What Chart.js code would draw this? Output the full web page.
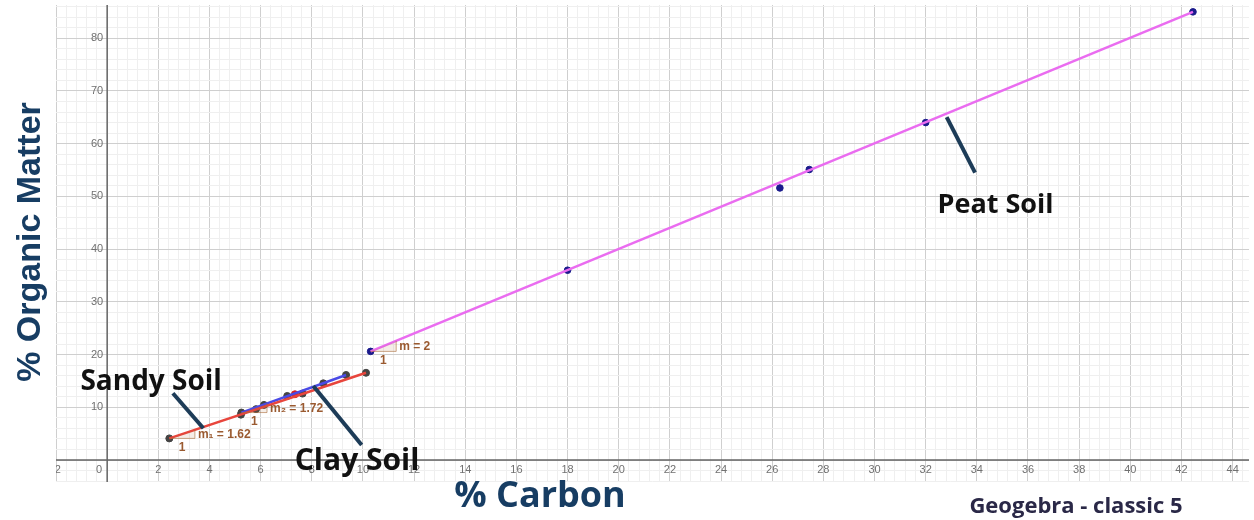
<!DOCTYPE html>
<html>
<head>
<meta charset="utf-8">
<script src="https://cdn.jsdelivr.net/npm/chart.js@4"></script>
<style>
  html, body { margin: 0; padding: 0; background: #fff; }
  #wrap { position: relative; width: 1254px; height: 520px; }
</style>
</head>
<body>
<div id="wrap"><canvas id="chart"></canvas></div>
<script>
// measured values (% carbon, % organic matter)
const peatX = [10.3, 18.0, 26.3, 27.45, 32.0, 42.45];
const peatY = [20.6, 36.0, 51.6, 55.1, 64.0, 85.0];
const sandyX = [2.43, 5.23, 5.82, 7.64, 10.12];
const sandyY = [4.1, 8.6, 9.65, 12.6, 16.55];
const clayX = [5.25, 6.13, 7.04, 7.34, 8.45, 9.34];
const clayY = [9.0, 10.45, 12.15, 12.47, 14.55, 16.13];

// fitted lines (end points) and slopes
const peatFitX = [10.3, 42.45];
const peatFitY = [20.6, 85.0];
const sandyFitX = [2.43, 10.12];
const sandyFitY = [4.1, 16.55];
const clayFitX = [5.25, 9.34];
const clayFitY = [9.0, 16.13];
const slopes = [2, 1.62, 1.72];
const slopeLabels = ['m = 2', 'm₁ = 1.62', 'm₂ = 1.72'];

const xTickLabels = [-2, 0, 2, 4, 6, 8, 10, 12, 14, 16, 18, 20, 22, 24, 26, 28, 30, 32, 34, 36, 38, 40, 42, 44];
const yTickLabels = [10, 20, 30, 40, 50, 60, 70, 80];

const toPts = (xs, ys) => xs.map((x, i) => ({ x: x, y: ys[i] }));

const NAVY = '#1d3c58';

function isMajor(v, step) {
  const r = v / step;
  return Math.abs(r - Math.round(r)) < 1e-6;
}

function minorTicks(scale, step) {
  const out = [];
  const k0 = Math.ceil(scale.min / step - 1e-9);
  const k1 = Math.floor(scale.max / step + 1e-9);
  for (let k = k0; k <= k1; k++) out.push({ value: Math.round(k * step * 100) / 100 });
  scale.ticks = out;
}

const geoPlugin = {
  id: 'geo',
  beforeDatasetsDraw(chart) {
    const { ctx, chartArea: a, scales: { x, y } } = chart;
    const x0 = x.getPixelForValue(0);
    const y0 = y.getPixelForValue(0);
    ctx.save();
    ctx.beginPath();
    ctx.rect(a.left, a.top, a.right - a.left, a.bottom - a.top);
    ctx.clip();
    // axes
    ctx.strokeStyle = '#666';
    ctx.lineWidth = 1.5;
    ctx.beginPath();
    ctx.moveTo(a.left, y0); ctx.lineTo(a.right, y0);
    ctx.moveTo(x0, a.top); ctx.lineTo(x0, a.bottom);
    ctx.stroke();
    // tick labels
    ctx.fillStyle = '#707070';
    ctx.font = '11px "Liberation Sans", sans-serif';
    ctx.textBaseline = 'middle';
    ctx.textAlign = 'center';
    xTickLabels.forEach(v => {
      const px = v === 0 ? x0 - 8 : x.getPixelForValue(v);
      ctx.fillText(String(v), px, y0 + 10);
    });
    ctx.textAlign = 'right';
    yTickLabels.forEach(v => {
      ctx.fillText(String(v), x0 - 4, y.getPixelForValue(v));
    });
    ctx.restore();
  },
  afterDatasetsDraw(chart) {
    const { ctx, scales: { x, y } } = chart;
    const px = v => x.getPixelForValue(v);
    const py = v => y.getPixelForValue(v);
    ctx.save();

    // slope triangles
    const starts = [[peatFitX[0], peatFitY[0]], [sandyFitX[0], sandyFitY[0]], [clayFitX[0], clayFitY[0]]];
    starts.forEach((s, i) => {
      const ax = px(s[0]), ay = py(s[1]);
      const bx = px(s[0] + 1), by = py(s[1] + slopes[i]);
      ctx.fillStyle = 'rgba(170,110,60,0.12)';
      ctx.strokeStyle = 'rgba(170,110,60,0.6)';
      ctx.lineWidth = 1;
      ctx.beginPath();
      ctx.moveTo(ax, ay); ctx.lineTo(bx, ay); ctx.lineTo(bx, by); ctx.closePath();
      ctx.fill();
      ctx.beginPath();
      ctx.moveTo(ax, ay); ctx.lineTo(bx, ay); ctx.lineTo(bx, by);
      ctx.stroke();
      ctx.fillStyle = '#9a5a30';
      ctx.font = 'bold 12px "Liberation Sans", sans-serif';
      ctx.textBaseline = 'middle';
      ctx.textAlign = 'left';
      ctx.fillText(slopeLabels[i], bx + 3, (ay + by) / 2 + 1);
      ctx.textAlign = 'center';
      ctx.fillText('1', (ax + bx) / 2, ay + 9);
    });

    // annotations
    const notes = [
      { text: 'Sandy Soil', size: 28, x: 1.72, y: 13.3, from: [2.57, 12.66], to: [3.76, 6.02] },
      { text: 'Clay Soil', size: 30, x: 9.77, y: -1.9, from: [8.06, 14.04], to: [9.95, 2.85] },
      { text: 'Peat Soil', size: 27, x: 34.73, y: 46.87, from: [32.82, 65.03], to: [33.93, 54.5] }
    ];
    notes.forEach(n => {
      ctx.strokeStyle = NAVY;
      ctx.lineWidth = 4;
      ctx.beginPath();
      ctx.moveTo(px(n.from[0]), py(n.from[1]));
      ctx.lineTo(px(n.to[0]), py(n.to[1]));
      ctx.stroke();
      ctx.fillStyle = '#111';
      ctx.font = 'bold ' + n.size + 'px "Open Sans", sans-serif';
      ctx.textAlign = 'center';
      ctx.textBaseline = 'alphabetic';
      ctx.fillText(n.text, px(n.x), py(n.y));
    });

    // axis titles
    ctx.fillStyle = '#173d63';
    ctx.font = 'bold 34px "Liberation Sans", sans-serif';
    ctx.textAlign = 'center';
    ctx.textBaseline = 'middle';
    ctx.save();
    ctx.translate(31, 242);
    ctx.rotate(-Math.PI / 2);
    ctx.fillText('% Organic Matter', 0, 0);
    ctx.restore();
    ctx.font = 'bold 36px "Open Sans", sans-serif';
    ctx.fillText('% Carbon', 540, 497);
    ctx.fillStyle = '#2a2847';
    ctx.font = 'bold 22px "Open Sans", sans-serif';
    ctx.fillText('Geogebra - classic 5', 1076, 507);
    ctx.restore();
  }
};

new Chart(document.getElementById('chart'), {
  type: 'scatter',
  data: {
    datasets: [
      {
        label: 'Peat fit',
        data: toPts(peatFitX, peatFitY),
        showLine: true,
        borderColor: '#ea6cf0',
        borderWidth: 2.5,
        pointRadius: 0
      },
      {
        label: 'Sandy fit',
        data: toPts(sandyFitX, sandyFitY),
        showLine: true,
        borderColor: '#e8453c',
        borderWidth: 2.5,
        pointRadius: 0
      },
      {
        label: 'Clay fit',
        data: toPts(clayFitX, clayFitY),
        showLine: true,
        borderColor: '#4a4ae6',
        borderWidth: 2.5,
        pointRadius: 0
      },
      {
        label: 'Peat Soil',
        data: toPts(peatX, peatY),
        backgroundColor: '#1a1a8c',
        borderColor: '#1a1a8c',
        pointRadius: 3.3
      },
      {
        label: 'Sandy Soil',
        data: toPts(sandyX, sandyY),
        backgroundColor: '#444',
        borderColor: '#444',
        pointRadius: 3.5
      },
      {
        label: 'Clay Soil',
        data: toPts(clayX, clayY),
        backgroundColor: ['#444', '#444', '#444', '#d42020', '#444', '#444'],
        borderColor: ['#444', '#444', '#444', '#d42020', '#444', '#444'],
        pointRadius: 3.5
      }
    ]
  },
  options: {
    responsive: true,
    maintainAspectRatio: false,
    animation: false,
    layout: { padding: { left: 56, right: 4, top: 5, bottom: 38 } },
    plugins: { legend: { display: false }, tooltip: { enabled: false } },
    scales: {
      x: {
        type: 'linear',
        min: -2,
        max: 44.64,
        afterBuildTicks: s => minorTicks(s, 0.4),
        ticks: { display: false },
        border: { display: false },
        grid: {
          drawTicks: false,
          lineWidth: 1,
          color: c => isMajor(c.tick.value, 2) ? '#cfcfcf' : '#efefef'
        }
      },
      y: {
        type: 'linear',
        min: -4.17,
        max: 86.3,
        afterBuildTicks: s => minorTicks(s, 2),
        ticks: { display: false },
        border: { display: false },
        grid: {
          drawTicks: false,
          lineWidth: 1,
          color: c => isMajor(c.tick.value, 10) ? '#cfcfcf' : '#efefef'
        }
      }
    }
  },
  plugins: [geoPlugin]
});
</script>
</body>
</html>
